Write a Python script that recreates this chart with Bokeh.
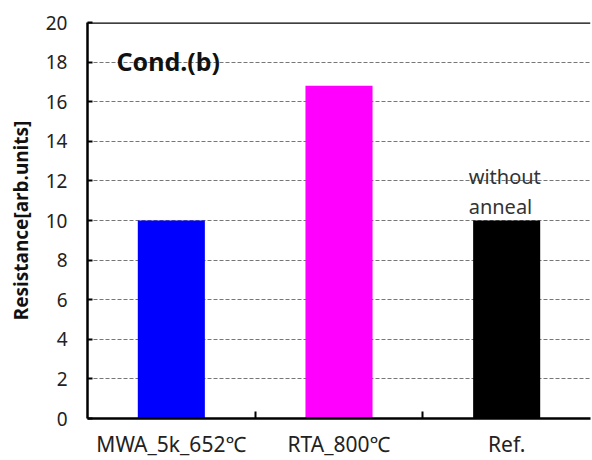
from bokeh.plotting import figure
from bokeh.models import Range1d, FixedTicker, Span, Label
from bokeh.embed import file_html
from bokeh.resources import INLINE

# Resistance per annealing condition
categories = ["MWA_5k_652\u2103", "RTA_800\u2103", "Ref."]
resistance = [10.0, 16.8, 10.0]
colors = ["#0000ff", "#ff00ff", "#000000"]
y_ticks = [0, 2, 4, 6, 8, 10, 12, 14, 16, 18, 20]

FONT = "Noto Sans"

xs = list(range(len(categories)))

p = figure(width=592, height=460, output_backend="svg", toolbar_location=None,
           x_range=Range1d(-0.5, len(categories) - 0.5), y_range=Range1d(0, 20),
           min_border_left=87, min_border_right=2, min_border_top=22,
           min_border_bottom=42)
p.outline_line_color = None
p.background_fill_color = "white"
p.border_fill_color = "white"

p.vbar(x=xs, top=resistance, width=0.4, fill_color=colors, line_color=None)

# x axis: names under bars, short ticks between categories
p.xaxis.ticker = FixedTicker(ticks=xs, minor_ticks=[i + 0.5 for i in xs[:-1]])
p.xaxis.major_label_overrides = {i: c for i, c in zip(xs, categories)}
p.xaxis.major_tick_line_color = None
p.xaxis.minor_tick_in = 7
p.xaxis.minor_tick_out = 0
p.xaxis.minor_tick_line_color = "black"
p.xaxis.minor_tick_line_width = 2
p.xaxis.axis_line_width = 2.5
p.xaxis.axis_line_color = "black"
p.xaxis.major_label_text_font = FONT
p.xaxis.major_label_text_font_size = "21px"
p.xaxis.major_label_text_color = "#222222"
p.xaxis.major_label_text_line_height = 0.9
p.xaxis.major_label_standoff = 5

# y axis
p.yaxis.ticker = FixedTicker(ticks=y_ticks)
p.yaxis.major_tick_in = 5
p.yaxis.major_tick_out = 0
p.yaxis.major_tick_line_width = 2
p.yaxis.minor_tick_line_color = None
p.yaxis.axis_line_width = 2.5
p.yaxis.axis_line_color = "black"
p.yaxis.major_label_text_font = FONT
p.yaxis.major_label_text_font_size = "19px"
p.yaxis.major_label_text_color = "#222222"
p.yaxis.major_label_standoff = 20
p.yaxis.axis_label = "Resistance[arb.units]"
p.yaxis.axis_label_text_font = FONT
p.yaxis.axis_label_text_font_size = "19px"
p.yaxis.axis_label_text_font_style = "bold"
p.yaxis.axis_label_text_color = "#111111"
p.yaxis.axis_label_standoff = 9

p.xgrid.grid_line_color = None
p.ygrid.grid_line_color = "#777777"
p.ygrid.grid_line_dash = "4 2"
p.ygrid.grid_line_width = 1
p.ygrid.level = "underlay"

# top border of the plot area
p.add_layout(Span(location=20, dimension="width", line_color="black", line_width=2.5))

p.add_layout(Label(x=-0.5, y=18.05, x_offset=29, text="Cond.(b)",
                   text_font=FONT, text_font_size="25px", text_font_style="bold",
                   text_color="#111111", text_baseline="middle"))

p.add_layout(Label(x=2, y=12.2, x_offset=-38, text="without", text_font=FONT,
                   text_font_size="20px", text_color="#333333",
                   text_baseline="middle"))
p.add_layout(Label(x=2, y=10.7, x_offset=-38, text="anneal", text_font=FONT,
                   text_font_size="20px", text_color="#333333",
                   text_baseline="middle"))

open("out.html", "w").write(file_html(p, INLINE))
